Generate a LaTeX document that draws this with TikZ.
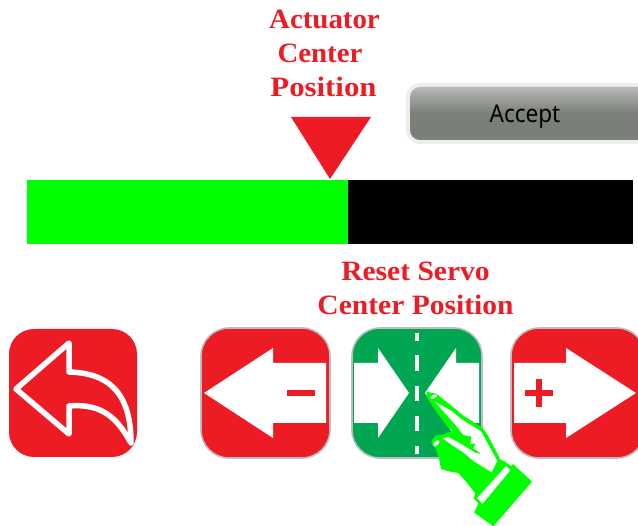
\documentclass[tikz,border=0pt]{standalone}
\usepackage{fontspec}
\setmainfont{Liberation Serif}
\newfontfamily\uifont[FakeStretch=0.92]{Noto Sans}
\newfontfamily\lblA[FakeStretch=1.03]{Liberation Serif}
\newfontfamily\lblB[FakeStretch=1.055]{Liberation Serif}
\newfontfamily\lblC[FakeStretch=1.1]{Liberation Serif}
\definecolor{redb}{HTML}{ED1C24}
\definecolor{greenb}{HTML}{00A651}
\definecolor{limeb}{HTML}{00FF00}
\definecolor{edgeb}{HTML}{BCBEC0}
\definecolor{acctop}{HTML}{B8B8B8}
\definecolor{accbot}{HTML}{7A7F78}
\pgfdeclareverticalshading{acceptshade}{100bp}{color(0bp)=(accbot); color(25bp)=(accbot); color(50bp)=(accbot); color(75bp)=(acctop); color(100bp)=(acctop)}
\tikzset{
  x=1pt,y=-1pt,
  label txt/.style={font=\bfseries\fontsize{28}{33}\selectfont,text=redb,inner sep=0pt,anchor=base},
  btn/.style={rounded corners=28pt,fill=#1,draw=edgeb,line width=1.6pt},
  glyph/.style={fill=white,draw=none},
  mark red/.style={fill=redb,draw=none},
}
\begin{document}
\begin{tikzpicture}
\useasboundingbox (0,0) rectangle (638,526);
% labels
\node[label txt] (actuatorA) at (324.5,29) {\lblA\bfseries Actuator};
\node[label txt] (actuatorB) at (320,63) {\lblA\bfseries Center};
\node[label txt] (actuatorC) at (323.5,97) {\lblC\bfseries Position};
\node[label txt] (resetA) at (415.5,281) {\lblB\bfseries Reset Servo};
\node[label txt] (resetB) at (415.5,315) {\lblB\bfseries Center Position};
% pointer
\fill[redb] (291,117) -- (371,117) -- (330,179) -- cycle;
% accept
\fill[rounded corners=14pt,fill=black!7] (406,83) rectangle (650,144);
\shade[rounded corners=10pt,shading=acceptshade] (410,87) rectangle (650,140);
\node[font=\uifont\fontsize{24.5}{28}\selectfont,text=black,inner sep=0pt,anchor=base] (accept) at (525,123) {Accept};
% bar
\fill[limeb] (27,180) rectangle (348,244);
\fill[black] (348,180) rectangle (633,244);
% back button
\fill[redb,rounded corners=25pt] (9,329) rectangle (137,457);
\draw[white,line width=5.5pt,line join=round,line cap=round]
  (16,389) -- (69,343) -- (69,372)
  .. controls (108,373) and (131,392) .. (131,443)
  .. controls (118,420) and (104,403) .. (69,406)
  -- (69,434) -- cycle;
% minus
\draw[btn=redb] (201,328) rectangle (330,458);
\fill[glyph] (204,393) -- (273,348) -- (273,363) -- (326,363) -- (326,423) -- (273,423) -- (273,438) -- cycle;
\fill[mark red] (287,390) rectangle (315,396);
% center
\draw[btn=greenb] (352,328) rectangle (482,458);
\fill[glyph] (354,363) -- (378,363) -- (378,348) -- (409,393) -- (378,438) -- (378,423) -- (354,423) -- cycle;
\fill[glyph] (479,363) -- (456,363) -- (456,348) -- (425,393) -- (456,438) -- (456,423) -- (479,423) -- cycle;
\foreach \ya/\yb in {333/341,355/371,386/401,416/431,446/454}
  \fill[white] (415,\ya) rectangle (419,\yb);
% plus
\draw[btn=redb] (511,328) rectangle (645,458);
\fill[glyph] (514,363) -- (566,363) -- (566,348) -- (636,393) -- (566,438) -- (566,423) -- (514,423) -- cycle;
\fill[mark red] (525,390) rectangle (553,396);
\fill[mark red] (536,379) rectangle (542,407);
% hand
\begin{scope}[shift={(420,385)},x=0.3333pt,y=-0.3333pt]
\fill[limeb,line join=round]
  (20,20) -- (50,27) -- (100,67) -- (130,92) -- (187,128) -- (203,150) -- (242,225)
  -- (252,228) -- (272,243) -- (280,238) -- (336,290) -- (220,424) -- (163,383) -- (175,355)
  -- (161,340) -- (166,325) -- (140,292) -- (115,264) -- (90,260) -- (63,252) -- (58,225)
  -- (48,192) -- (33,172) -- (45,153) -- (70,148) -- (98,137) -- (85,128) -- (43,72) -- (20,35) -- cycle;
\fill[white]
  (44,50) -- (95,78) -- (125,103) -- (183,139) -- (193,157) -- (232,228) -- (215,262)
  -- (160,228) -- (130,202) -- (100,183) -- (68,160) -- (85,156) -- (125,178) -- (165,203)
  -- (185,207) -- (160,190) -- (168,175) -- (150,178) -- (155,155) -- (130,150) -- (105,118) -- cycle;
\fill[white,rotate around={25:(41,35)}] (41,35) ellipse [x radius=11,y radius=5];
\fill[white,rotate around={45:(49,175)}] (49,175) ellipse [x radius=12,y radius=6];
\fill[white,line join=round] (258,243) -- (271,256) -- (188,356) -- (171,340) -- cycle;
\end{scope}
\end{tikzpicture}
\end{document}
